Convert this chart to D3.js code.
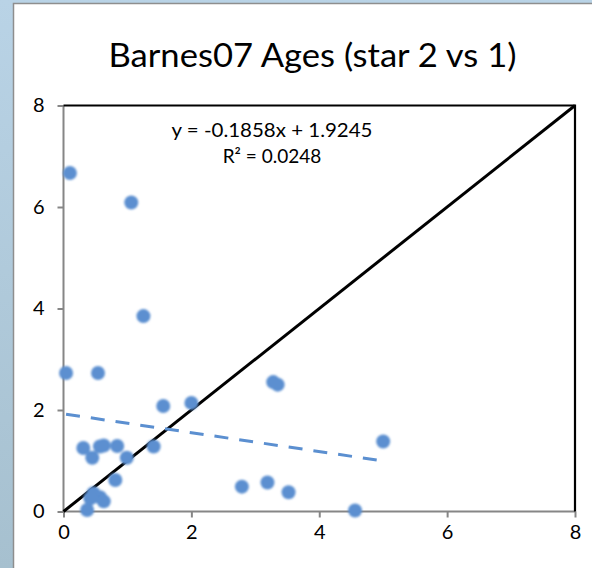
<!DOCTYPE html>
<html><head><meta charset="utf-8">
<script src="https://cdn.jsdelivr.net/npm/d3@7"></script>
<style>
html,body{margin:0;padding:0;background:#fff;}
svg{display:block;}
text{font-family:Lato,"Liberation Sans",sans-serif;fill:#000;}
</style></head>
<body>
<svg id="c" width="592" height="568"></svg>
<script>
// ---- data ----
const title = "Barnes07 Ages (star 2 vs 1)";
const xTicks = [0, 2, 4, 6, 8];
const yTicks = [0, 2, 4, 6, 8];
const star1Ages = [0.10, 1.06, 1.25, 0.04, 0.54, 1.56, 2.00, 3.28, 3.35, 5.00, 3.19, 3.52, 4.56, 2.79, 1.41, 0.99, 0.84, 0.81, 0.31, 0.45, 0.57, 0.63, 0.47, 0.57, 0.63, 0.37, 0.42];
const star2Ages = [6.67, 6.09, 3.85, 2.73, 2.73, 2.08, 2.14, 2.55, 2.50, 1.38, 0.57, 0.38, 0.02, 0.49, 1.28, 1.06, 1.29, 0.62, 1.25, 1.06, 1.28, 1.30, 0.36, 0.28, 0.20, 0.03, 0.26];
const refLineX = [0, 8];
const refLineY = [0, 8];
const boxX = [0, 8, 8];
const boxY = [8, 8, 0];
const trendSlope = -0.1858;
const trendIntercept = 1.9245;
const trendLabel = ["y = -0.1858x + 1.9245", "R\u00b2 = 0.0248"];

// ---- layout ----
const svg = d3.select("#c");
const defs = svg.append("defs");
const g1 = defs.append("linearGradient").attr("id","bg").attr("x1",0).attr("y1",0).attr("x2",0).attr("y2",1);
g1.append("stop").attr("offset","0%").attr("stop-color","#b9d3e6");
g1.append("stop").attr("offset","100%").attr("stop-color","#a6c0cf");
const blur = defs.append("filter").attr("id","soft").attr("x","-50%").attr("y","-50%").attr("width","200%").attr("height","200%");
blur.append("feGaussianBlur").attr("stdDeviation",1.0);

svg.append("rect").attr("width",592).attr("height",568).attr("fill","url(#bg)");
svg.append("rect").attr("x",13.5).attr("y",3.5).attr("width",600).attr("height",600)
  .attr("fill","#fff").attr("stroke","#8e8e8e").attr("stroke-width",1.5);

const x = d3.scaleLinear().domain([0, 8]).range([63.5, 575]);
const y = d3.scaleLinear().domain([0, 8]).range([511.5, 105.5]);

svg.append("text").attr("x",312.5).attr("y",67).attr("text-anchor","middle")
  .attr("font-size",32).attr("textLength",408).attr("lengthAdjust","spacingAndGlyphs").text(title);

// axes
const xAxis = d3.axisBottom(x).tickValues(xTicks).tickSize(6).tickPadding(7).tickFormat(d3.format("d"));
const yAxis = d3.axisLeft(y).tickValues(yTicks).tickSize(6).tickPadding(13).tickFormat(d3.format("d"));
const gx = svg.append("g").attr("transform",`translate(0,${y(0)})`).call(xAxis);
const gy = svg.append("g").attr("transform",`translate(${x(0)},0)`).call(yAxis);
[gx, gy].forEach(g => {
  g.select(".domain").attr("stroke","#868686").attr("stroke-width",2);
  g.selectAll(".tick line").attr("stroke","#868686").attr("stroke-width",2);
  g.selectAll(".tick text").attr("font-size",20).attr("font-family","Lato, sans-serif").attr("fill","#000");
});
gx.select(".domain").attr("d", `M${x(0)},0H${x(8)}`);
gy.select(".domain").attr("d", `M0,${y(0)}V${y(8)}`);

// black box line and 1:1 line
const line = d3.line().x(d => x(d[0])).y(d => y(d[1]));
svg.append("path").attr("d", line(boxX.map((v,i)=>[v, boxY[i]])))
  .attr("fill","none").attr("stroke","#000").attr("stroke-width",2.2);
svg.append("path").attr("d", line(refLineX.map((v,i)=>[v, refLineY[i]])))
  .attr("fill","none").attr("stroke","#000").attr("stroke-width",3);

// points
svg.append("g").attr("filter","url(#soft)").selectAll("circle")
  .data(star1Ages.map((v,i)=>[v, star2Ages[i]]))
  .join("circle")
  .attr("cx", d => x(d[0])).attr("cy", d => y(d[1])).attr("r", 7)
  .attr("fill", "#5b8fd0");

// trend line
const xMin = d3.min(star1Ages), xMax = d3.max(star1Ages);
svg.append("path")
  .attr("d", line([[xMin, trendIntercept + trendSlope*xMin],[xMax, trendIntercept + trendSlope*xMax]]))
  .attr("fill","none").attr("stroke","#5b8fd0").attr("stroke-width",3)
  .attr("stroke-dasharray","14,11");

// trend label
svg.append("text").attr("x",272).attr("y",137).attr("text-anchor","middle").attr("font-size",19)
  .attr("textLength",201).attr("lengthAdjust","spacingAndGlyphs").text(trendLabel[0]);
svg.append("text").attr("x",272).attr("y",163).attr("text-anchor","middle").attr("font-size",19).text(trendLabel[1]);
</script>
</body></html>
